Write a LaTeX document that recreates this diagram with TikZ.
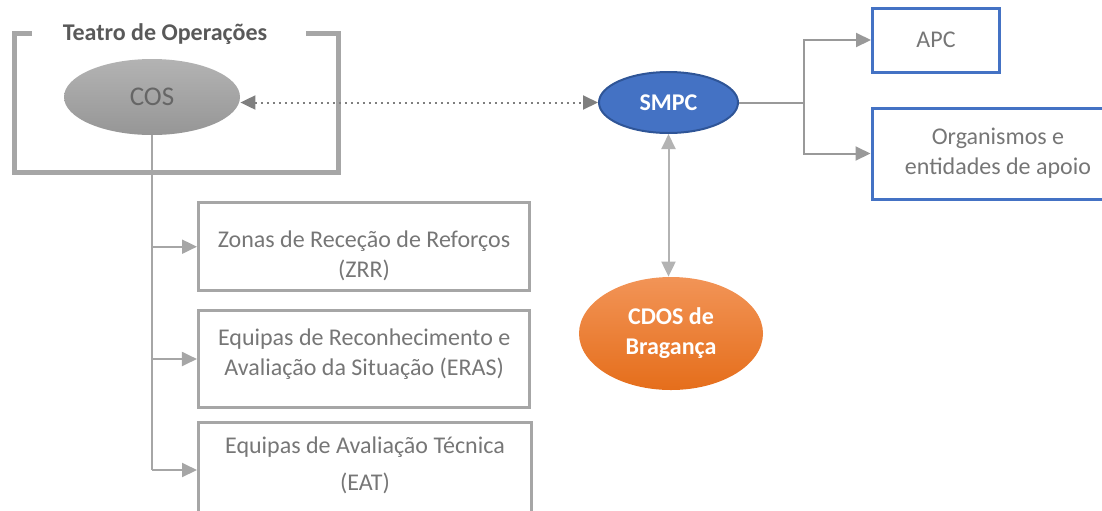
\documentclass[tikz,border=0pt]{standalone}
\usepackage{fontspec}
\setmainfont{Carlito}
\usetikzlibrary{shapes.geometric, arrows.meta}
\definecolor{framegray}{HTML}{A6A6A6}
\definecolor{titlegray}{HTML}{595959}
\definecolor{txtgray}{HTML}{767676}
\definecolor{linkgray}{HTML}{A6A6A6}
\definecolor{forkgray}{HTML}{999999}
\definecolor{dotgray}{HTML}{7F7F7F}
\definecolor{costop}{HTML}{B3B3B3}
\definecolor{cosbot}{HTML}{969696}
\definecolor{costext}{HTML}{666666}
\definecolor{smpcblue}{HTML}{4472C4}
\definecolor{smpcedge}{HTML}{2F5597}
\definecolor{cdostop}{HTML}{F29457}
\definecolor{cdosbot}{HTML}{E56E1B}
\begin{document}
\begin{tikzpicture}[x=0.5pt, y=-0.5pt,
    every node/.style={font=\fontsize{12}{15}\selectfont, inner sep=2pt},
    graybox/.style={draw=framegray, line width=1.5pt, text=txtgray, align=center},
    bluebox/.style={draw=smpcblue, line width=1.5pt, text=txtgray, align=center},
    tip/.style={-{Triangle[length=7.5pt, width=7pt]}},
    link/.style={draw=linkgray, line width=1pt}]
    \useasboundingbox (0,0) rectangle (1102,510);
    \clip (0,0) rectangle (1102,510);
    % teatro de operacoes
    \draw [framegray, line width=2.5pt] (32,33) -- (14,33) -- (14,172) -- (338,172) -- (338,33) -- (306,33);
    \node [font=\bfseries\fontsize{12}{15}\selectfont, text=titlegray] (teatro) at (165,34) {Teatro de Operações};
    \node [ellipse, minimum width=88pt, minimum height=38pt, top color=costop, bottom color=cosbot, text=costext, font=\fontsize{13.5}{15}\selectfont] (cos) at (152,97) {COS};
    % ellipses on the right
    \node [ellipse, draw=smpcedge, line width=1pt, fill=smpcblue, text=white, font=\bfseries\fontsize{12}{15}\selectfont, minimum width=69.5pt, minimum height=30.5pt] (smpc) at (668.5,102.5) {SMPC};
    \node [ellipse, top color=cdostop, bottom color=cdosbot, text=white, font=\bfseries\fontsize{12}{15}\selectfont, align=center, minimum width=92pt, minimum height=56.5pt] (cdos) at (671,333.5) {CDOS de\\Bragança};
    \node [bluebox, minimum width=63.5pt, minimum height=32pt] (apc) at (936,40) {APC};
    \node [bluebox, minimum width=126pt, minimum height=45.5pt] (apoio) at (998,153.5) {Organismos e\\entidades de apoio};
    % boxes below COS
    \node [graybox, minimum width=165.5pt, minimum height=44pt, text height=33.8pt, text depth=3.5pt] (zrr) at (364,246.7) {Zonas de Receção de Reforços\\(ZRR)};
    \node [graybox, minimum width=165.75pt, minimum height=48.5pt, text height=19.5pt, text depth=3.5pt] (eras) at (364.2,359) {Equipas de Reconhecimento e\\Avaliação da Situação (ERAS)};
    \node [graybox, minimum width=166.5pt, minimum height=47.75pt, text height=23.5pt, text depth=3.5pt] (eat) at (365,470) {Equipas de Avaliação Técnica\\[3.5pt](EAT)};
    % connectors
    \draw [dotted, draw=dotgray, line width=1pt, {Triangle[length=7.5pt, width=7pt]}-{Triangle[length=7.5pt, width=7pt]}] (smpc.west -| cos.east) -- (smpc.west);
    \coordinate (fork) at (804,102.5);
    \draw [link, draw=forkgray] (smpc.east) -- (fork);
    \draw [link, draw=forkgray, tip] (fork) |- (apc.west);
    \draw [link, draw=forkgray, tip] (fork) |- (apoio.west);
    \draw [link, draw=framegray!85, {Triangle[length=7.5pt, width=7pt]}-{Triangle[length=7.5pt, width=7pt]}] (smpc.south) -- (smpc.south |- cdos.north);
    \draw [link] (cos.south) -- (cos.south |- eat.west);
    \draw [link, tip] (cos.south |- zrr.west) -- (zrr.west);
    \draw [link, tip] (cos.south |- eras.west) -- (eras.west);
    \draw [link, tip] (cos.south |- eat.west) -- (eat.west);
\end{tikzpicture}
\end{document}
